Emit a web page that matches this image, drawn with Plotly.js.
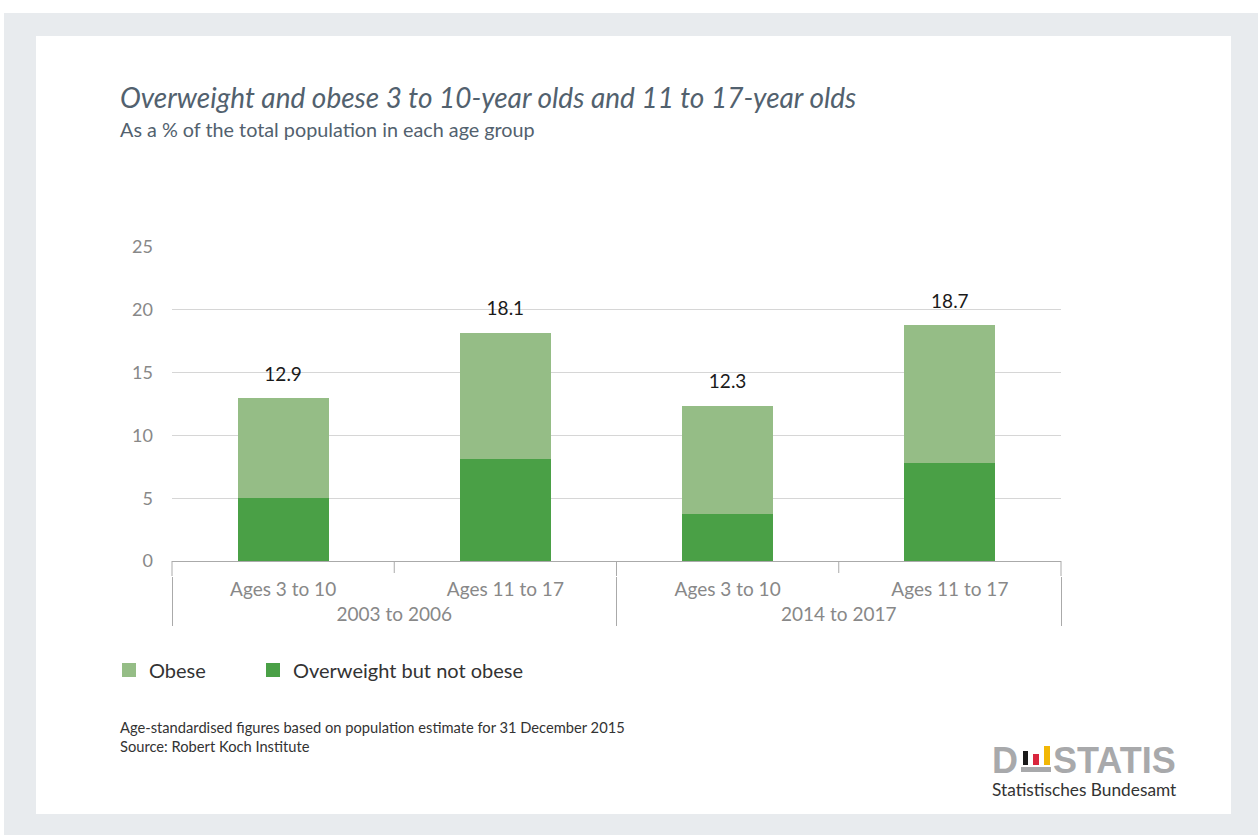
<!DOCTYPE html>
<html>
<head>
<meta charset="utf-8">
<script src="https://cdn.plot.ly/plotly-3.0.1.min.js"></script>
<style>
html,body{margin:0;padding:0;background:#fff;}
#chart{width:1258px;height:835px;}
</style>
</head>
<body>
<div id="chart"></div>
<script>
// ---- data ----
var periods = ["2003 to 2006", "2003 to 2006", "2014 to 2017", "2014 to 2017"];
var ageGroups = ["Ages 3 to 10", "Ages 11 to 17", "Ages 3 to 10", "Ages 11 to 17"];
var overweight = [5.1, 8.2, 3.8, 7.9];
var obese = [7.8, 9.9, 8.5, 10.8];
var seriesNames = ["Overweight but not obese", "Obese"];
var yTicks = [0, 5, 10, 15, 20, 25];

var totals = overweight.map(function (v, i) { return Math.round((v + obese[i]) * 10) / 10; });
var totalLabels = totals.map(function (v) { return v.toFixed(1); });

var FONT = "Lato, 'Open Sans', sans-serif";
var LOGOFONT = "'Liberation Sans', Arial, sans-serif";
var DARK = "#4aa046";
var LIGHT = "#95bd86";
var AXISGRAY = "#aaaaaa";

// layout geometry: y-axis spans px 247..561, category axis labels sit a little below (576)
var L = 172, R = 1061, T = 247, Y0 = 561, B = 576;
function px(x) { return (x - L) / (R - L); }
function py(y) { return (B - y) / (B - T); }
var yDomainStart = py(Y0);

var traces = [
  {
    type: "bar", name: seriesNames[0], legend: "legend2",
    x: [periods, ageGroups], y: overweight,
    marker: { color: DARK, line: { color: DARK, width: 2 } },
    width: 0.4, hoverinfo: "skip"
  },
  {
    type: "bar", name: seriesNames[1], legend: "legend",
    x: [periods, ageGroups], y: obese,
    marker: { color: LIGHT, line: { color: LIGHT, width: 2 } },
    width: 0.4, hoverinfo: "skip"
  },
  {
    type: "scatter", mode: "markers+text",
    x: [periods, ageGroups], y: totals,
    text: totalLabels, textposition: "top center",
    textfont: { family: FONT, size: 19, color: "#1a1a1a" },
    marker: { size: 20, color: "rgba(0,0,0,0)" },
    showlegend: false, hoverinfo: "skip", cliponaxis: false
  }
];

// tick segments at every category boundary: short ones inside a period, joined to dividers at period edges
var nCats = ageGroups.length;
var boundaryTicks = [];
for (var i = 0; i <= nCats; i++) {
  var inner = i > 0 && i < nCats && periods[i] === periods[i - 1];
  boundaryTicks.push({ type: "line", xref: "paper", yref: "paper",
    x0: i / nCats, x1: i / nCats, y0: inner ? py(573) : 0, y1: yDomainStart,
    line: { color: AXISGRAY, width: 1 } });
}

var shapes = [
  { type: "rect", xref: "paper", yref: "paper", layer: "below",
    x0: px(4), x1: px(1262), y0: py(13), y1: py(840),
    fillcolor: "#e8ebee", line: { width: 0 } },
  { type: "rect", xref: "paper", yref: "paper", layer: "below",
    x0: px(36), x1: px(1231), y0: py(36), y1: py(814),
    fillcolor: "#ffffff", line: { width: 0 } },
  // logo bars
  { type: "rect", xref: "paper", yref: "paper", x0: px(1023), x1: px(1028), y0: py(751), y1: py(765),
    fillcolor: "#1a1a1a", line: { width: 0 } },
  { type: "rect", xref: "paper", yref: "paper", x0: px(1033), x1: px(1039), y0: py(754), y1: py(765),
    fillcolor: "#d9263d", line: { width: 0 } },
  { type: "rect", xref: "paper", yref: "paper", x0: px(1044), x1: px(1050), y0: py(746), y1: py(765),
    fillcolor: "#f2b705", line: { width: 0 } },
  { type: "rect", xref: "paper", yref: "paper", x0: px(1021), x1: px(1051), y0: py(767), y1: py(772),
    fillcolor: "#a8a9ab", line: { width: 0 } }
].concat(boundaryTicks);

var annotations = [
  { xref: "paper", yref: "paper", x: px(118), y: py(97), xanchor: "left", yanchor: "middle",
    text: "<i>Overweight and obese 3 to 10-year olds and 11 to 17-year olds</i>", showarrow: false,
    font: { family: FONT, size: 28, color: "#52616e" } },
  { xref: "paper", yref: "paper", x: px(118), y: py(129), xanchor: "left", yanchor: "middle",
    text: "As a % of the total population in each age group", showarrow: false,
    font: { family: FONT, size: 19.8, color: "#52616e" } },
  { xref: "paper", yref: "paper", x: px(118), y: py(727), xanchor: "left", yanchor: "middle",
    text: "Age-standardised figures based on population estimate for 31 December 2015", showarrow: false,
    font: { family: FONT, size: 14.7, color: "#333333" } },
  { xref: "paper", yref: "paper", x: px(118), y: py(746), xanchor: "left", yanchor: "middle",
    text: "Source: Robert Koch Institute", showarrow: false,
    font: { family: FONT, size: 14.7, color: "#333333" } },
  { xref: "paper", yref: "paper", x: px(990), y: py(760), xanchor: "left", yanchor: "middle",
    text: "<b>D</b>", showarrow: false,
    font: { family: LOGOFONT, size: 36, color: "#a8a9ab" } },
  { xref: "paper", yref: "paper", x: px(1051), y: py(760), xanchor: "left", yanchor: "middle",
    text: "<b>STATIS</b>", showarrow: false,
    font: { family: LOGOFONT, size: 36, color: "#a8a9ab" } },
  { xref: "paper", yref: "paper", x: px(990), y: py(789), xanchor: "left", yanchor: "middle",
    text: "Statistisches Bundesamt", showarrow: false,
    font: { family: FONT, size: 17.3, color: "#333333" } }
];

var legendCommon = {
  orientation: "h", yanchor: "middle", xanchor: "left",
  font: { family: FONT, size: 20, color: "#333333" },
  bgcolor: "rgba(0,0,0,0)"
};

var layout = {
  width: 1258, height: 835,
  margin: { l: L, r: 1258 - R, t: T, b: 835 - B, pad: 0 },
  paper_bgcolor: "#ffffff",
  plot_bgcolor: "rgba(0,0,0,0)",
  barmode: "stack",
  font: { family: FONT, color: "#333" },
  xaxis: {
    type: "multicategory",
    anchor: "free", position: 0,
    showline: false, ticks: "",
    showdividers: true, dividercolor: AXISGRAY, dividerwidth: 1,
    tickfont: { family: FONT, size: 19, color: "#888888" },
    showgrid: false, fixedrange: true
  },
  yaxis: {
    domain: [yDomainStart, 1],
    range: [0, 25], tickvals: yTicks, ticktext: yTicks.map(String),
    showgrid: true, gridcolor: "#d6d6d6", gridwidth: 1,
    zeroline: true, zerolinecolor: AXISGRAY, zerolinewidth: 1,
    showline: false, ticks: "",
    ticklabelstandoff: 18,
    tickfont: { family: FONT, size: 18, color: "#888888" },
    fixedrange: true
  },
  showlegend: true,
  legend: Object.assign({}, legendCommon, { x: px(109), y: py(670) }),
  legend2: Object.assign({}, legendCommon, { x: px(253), y: py(670) }),
  shapes: shapes,
  annotations: annotations
};

Plotly.newPlot("chart", traces, layout, { staticPlot: true, displayModeBar: false });
</script>
</body>
</html>
